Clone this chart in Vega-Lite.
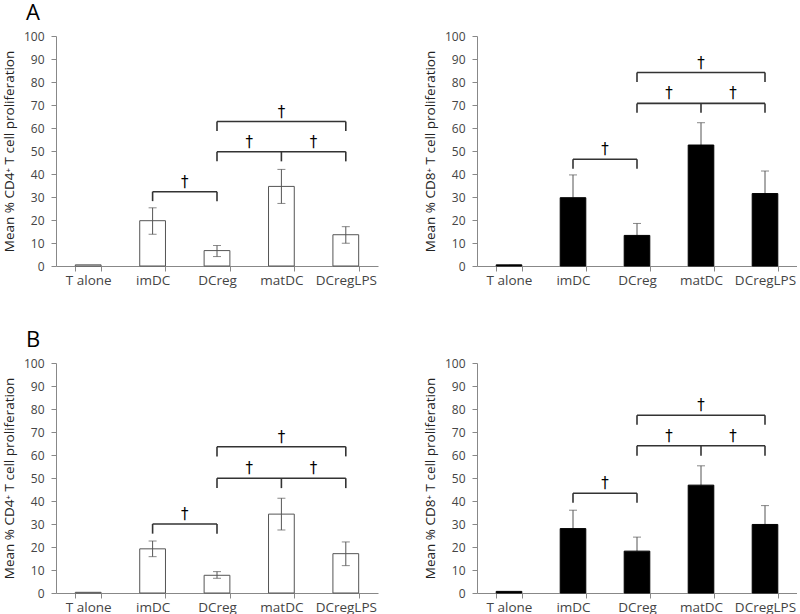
{
  "$schema": "https://vega.github.io/schema/vega-lite/v6.json",
  "padding": {"left": 2, "top": 2, "right": 0, "bottom": 0},
  "background": "white",
  "config": {
    "view": {"stroke": null},
    "font": "Open Sans",
    "axis": {"domainColor": "#888", "tickColor": "#888", "labelColor": "#444", "labelFont": "Open Sans", "titleFont": "Open Sans", "titleFontWeight": "normal", "titleColor": "#222", "grid": false, "tickSize": 5},
    "axisY": {"labelPadding": 7, "titlePadding": 7, "labelFontSize": 12, "titleFontSize": 13.5, "tickCount": 10},
    "axisX": {"labelPadding": 2, "labelFontSize": 13.5}
  },
  "datasets": {
    "bars": [
      {"panel": "A4", "cat": "T alone", "mean": 0.5},
      {"panel": "A4", "cat": "imDC", "mean": 19.7, "lo": 13.8, "hi": 25.3},
      {"panel": "A4", "cat": "DCreg", "mean": 6.7, "lo": 4.1, "hi": 8.9},
      {"panel": "A4", "cat": "matDC", "mean": 34.6, "lo": 27.2, "hi": 42.0},
      {"panel": "A4", "cat": "DCregLPS", "mean": 13.6, "lo": 9.9, "hi": 17.1},
      {"panel": "A8", "cat": "T alone", "mean": 0.5},
      {"panel": "A8", "cat": "imDC", "mean": 29.7, "hi": 39.6},
      {"panel": "A8", "cat": "DCreg", "mean": 13.3, "hi": 18.5},
      {"panel": "A8", "cat": "matDC", "mean": 52.6, "hi": 62.3},
      {"panel": "A8", "cat": "DCregLPS", "mean": 31.5, "hi": 41.3},
      {"panel": "B4", "cat": "T alone", "mean": 0.3},
      {"panel": "B4", "cat": "imDC", "mean": 19.2, "lo": 15.8, "hi": 22.6},
      {"panel": "B4", "cat": "DCreg", "mean": 7.7, "lo": 6.4, "hi": 9.3},
      {"panel": "B4", "cat": "matDC", "mean": 34.3, "lo": 27.4, "hi": 41.2},
      {"panel": "B4", "cat": "DCregLPS", "mean": 17.1, "lo": 11.9, "hi": 22.2},
      {"panel": "B8", "cat": "T alone", "mean": 0.7},
      {"panel": "B8", "cat": "imDC", "mean": 28.0, "hi": 36.0},
      {"panel": "B8", "cat": "DCreg", "mean": 18.2, "hi": 24.3},
      {"panel": "B8", "cat": "matDC", "mean": 46.9, "hi": 55.3},
      {"panel": "B8", "cat": "DCregLPS", "mean": 29.8, "hi": 38.0}
    ],
    "brk": [
      {"panel": "A4", "cat": "imDC", "to": "DCreg", "level": 32.3},
      {"panel": "A4", "cat": "DCreg", "to": "DCregLPS", "level": 49.7},
      {"panel": "A4", "cat": "DCreg", "to": "DCregLPS", "level": 62.8},
      {"panel": "A8", "cat": "imDC", "to": "DCreg", "level": 46.4},
      {"panel": "A8", "cat": "DCreg", "to": "DCregLPS", "level": 70.7},
      {"panel": "A8", "cat": "DCreg", "to": "DCregLPS", "level": 84.1},
      {"panel": "B4", "cat": "imDC", "to": "DCreg", "level": 30.0},
      {"panel": "B4", "cat": "DCreg", "to": "DCregLPS", "level": 49.9},
      {"panel": "B4", "cat": "DCreg", "to": "DCregLPS", "level": 63.6},
      {"panel": "B8", "cat": "imDC", "to": "DCreg", "level": 43.4},
      {"panel": "B8", "cat": "DCreg", "to": "DCregLPS", "level": 64.0},
      {"panel": "B8", "cat": "DCreg", "to": "DCregLPS", "level": 77.3}
    ],
    "drops": [
      {"panel": "A4", "cat": "imDC", "top": 32.3, "bottom": 28.2},
      {"panel": "A4", "cat": "DCreg", "top": 32.3, "bottom": 28.2},
      {"panel": "A4", "cat": "DCreg", "top": 49.7, "bottom": 45.5},
      {"panel": "A4", "cat": "matDC", "top": 49.7, "bottom": 45.5},
      {"panel": "A4", "cat": "DCregLPS", "top": 49.7, "bottom": 45.5},
      {"panel": "A4", "cat": "DCreg", "top": 62.8, "bottom": 58.7},
      {"panel": "A4", "cat": "DCregLPS", "top": 62.8, "bottom": 58.7},
      {"panel": "A8", "cat": "imDC", "top": 46.4, "bottom": 42.3},
      {"panel": "A8", "cat": "DCreg", "top": 46.4, "bottom": 42.3},
      {"panel": "A8", "cat": "DCreg", "top": 70.7, "bottom": 66.6},
      {"panel": "A8", "cat": "matDC", "top": 70.7, "bottom": 66.6},
      {"panel": "A8", "cat": "DCregLPS", "top": 70.7, "bottom": 66.6},
      {"panel": "A8", "cat": "DCreg", "top": 84.1, "bottom": 80.0},
      {"panel": "A8", "cat": "DCregLPS", "top": 84.1, "bottom": 80.0},
      {"panel": "B4", "cat": "imDC", "top": 30.0, "bottom": 25.8},
      {"panel": "B4", "cat": "DCreg", "top": 30.0, "bottom": 25.8},
      {"panel": "B4", "cat": "DCreg", "top": 49.9, "bottom": 45.6},
      {"panel": "B4", "cat": "matDC", "top": 49.9, "bottom": 45.6},
      {"panel": "B4", "cat": "DCregLPS", "top": 49.9, "bottom": 45.6},
      {"panel": "B4", "cat": "DCreg", "top": 63.6, "bottom": 59.4},
      {"panel": "B4", "cat": "DCregLPS", "top": 63.6, "bottom": 59.4},
      {"panel": "B8", "cat": "imDC", "top": 43.4, "bottom": 39.2},
      {"panel": "B8", "cat": "DCreg", "top": 43.4, "bottom": 39.2},
      {"panel": "B8", "cat": "DCreg", "top": 64.0, "bottom": 59.7},
      {"panel": "B8", "cat": "matDC", "top": 64.0, "bottom": 59.7},
      {"panel": "B8", "cat": "DCregLPS", "top": 64.0, "bottom": 59.7},
      {"panel": "B8", "cat": "DCreg", "top": 77.3, "bottom": 73.1},
      {"panel": "B8", "cat": "DCregLPS", "top": 77.3, "bottom": 73.1}
    ],
    "dag": [
      {"panel": "A4", "cat": "imDC", "level": 32.3, "between": true},
      {"panel": "A4", "cat": "DCreg", "level": 49.7, "between": true},
      {"panel": "A4", "cat": "matDC", "level": 49.7, "between": true},
      {"panel": "A4", "cat": "matDC", "level": 62.8, "between": false},
      {"panel": "A8", "cat": "imDC", "level": 46.4, "between": true},
      {"panel": "A8", "cat": "DCreg", "level": 70.7, "between": true},
      {"panel": "A8", "cat": "matDC", "level": 70.7, "between": true},
      {"panel": "A8", "cat": "matDC", "level": 84.1, "between": false},
      {"panel": "B4", "cat": "imDC", "level": 30.0, "between": true},
      {"panel": "B4", "cat": "DCreg", "level": 49.9, "between": true},
      {"panel": "B4", "cat": "matDC", "level": 49.9, "between": true},
      {"panel": "B4", "cat": "matDC", "level": 63.6, "between": false},
      {"panel": "B8", "cat": "imDC", "level": 43.4, "between": true},
      {"panel": "B8", "cat": "DCreg", "level": 64.0, "between": true},
      {"panel": "B8", "cat": "matDC", "level": 64.0, "between": true},
      {"panel": "B8", "cat": "matDC", "level": 77.3, "between": false}
    ]
  },
  "vconcat": [
    {
      "spacing": 45,
      "hconcat": [
        {
          "width": 322, "height": 230,
          "title": {"text": "A", "anchor": "start", "frame": "group", "dx": -30, "fontSize": 22, "fontWeight": "normal", "font": "Open Sans", "color": "#000", "offset": -12, "baseline": "alphabetic"},
          "encoding": {"x": {"field": "cat", "type": "nominal", "scale": {"domain": ["T alone", "imDC", "DCreg", "matDC", "DCregLPS"], "paddingInner": 0.6, "paddingOuter": 0.3}, "axis": {"title": null, "labelAngle": 0, "tickBand": "extent"}}},
          "layer": [
            {"data": {"name": "bars"}, "transform": [{"filter": "datum.panel === 'A4'"}], "mark": {"type": "bar", "fill": "#ffffff", "stroke": "#555", "strokeWidth": 1}, "encoding": {"y": {"field": "mean", "type": "quantitative", "scale": {"domain": [0, 100]}, "title": "Mean % CD4⁺ T cell proliferation"}}},
            {"data": {"name": "bars"}, "transform": [{"filter": "datum.panel === 'A4'"}], "mark": {"type": "rule", "color": "#555"}, "encoding": {"y": {"field": "lo", "type": "quantitative", "title": "Mean % CD4⁺ T cell proliferation"}, "y2": {"field": "hi"}}},
            {"data": {"name": "bars"}, "transform": [{"filter": "datum.panel === 'A4'"}], "mark": {"type": "tick", "color": "#555", "size": 8, "thickness": 1}, "encoding": {"y": {"field": "hi", "type": "quantitative", "title": "Mean % CD4⁺ T cell proliferation"}}},
            {"data": {"name": "bars"}, "transform": [{"filter": "datum.panel === 'A4'"}], "mark": {"type": "tick", "color": "#555", "size": 8, "thickness": 1}, "encoding": {"y": {"field": "lo", "type": "quantitative", "title": "Mean % CD4⁺ T cell proliferation"}}},
            {"data": {"name": "brk"}, "transform": [{"filter": "datum.panel === 'A4'"}], "mark": {"type": "rule", "color": "#333", "strokeWidth": 1.6}, "encoding": {"y": {"field": "level", "type": "quantitative", "title": "Mean % CD4⁺ T cell proliferation"}, "x2": {"field": "to"}}},
            {"data": {"name": "drops"}, "transform": [{"filter": "datum.panel === 'A4'"}], "mark": {"type": "rule", "color": "#333", "strokeWidth": 1.6}, "encoding": {"y": {"field": "top", "type": "quantitative", "title": "Mean % CD4⁺ T cell proliferation"}, "y2": {"field": "bottom"}}},
            {"data": {"name": "dag"}, "transform": [{"filter": "datum.panel === 'A4' && datum.between"}], "mark": {"type": "text", "text": "†", "fontSize": 15, "dy": -10, "color": "#000", "font": "DejaVu Sans"}, "encoding": {"x": {"field": "cat", "type": "nominal", "bandPosition": 1.75, "scale": {"domain": ["T alone", "imDC", "DCreg", "matDC", "DCregLPS"], "paddingInner": 0.6, "paddingOuter": 0.3}, "axis": {"title": null, "labelAngle": 0, "tickBand": "extent"}}, "y": {"field": "level", "type": "quantitative", "title": "Mean % CD4⁺ T cell proliferation"}}},
            {"data": {"name": "dag"}, "transform": [{"filter": "datum.panel === 'A4' && !datum.between"}], "mark": {"type": "text", "text": "†", "fontSize": 15, "dy": -10, "color": "#000", "font": "DejaVu Sans"}, "encoding": {"y": {"field": "level", "type": "quantitative", "title": "Mean % CD4⁺ T cell proliferation"}}}
          ]
        },
        {
          "width": 320, "height": 230,
          "encoding": {"x": {"field": "cat", "type": "nominal", "scale": {"domain": ["T alone", "imDC", "DCreg", "matDC", "DCregLPS"], "paddingInner": 0.6, "paddingOuter": 0.3}, "axis": {"title": null, "labelAngle": 0, "tickBand": "extent"}}},
          "layer": [
            {"data": {"name": "bars"}, "transform": [{"filter": "datum.panel === 'A8'"}], "mark": {"type": "rule", "color": "#555"}, "encoding": {"y": {"field": "mean", "type": "quantitative", "scale": {"domain": [0, 100]}, "title": "Mean % CD8⁺ T cell proliferation"}, "y2": {"field": "hi"}}},
            {"data": {"name": "bars"}, "transform": [{"filter": "datum.panel === 'A8'"}], "mark": {"type": "bar", "fill": "#000000", "stroke": "#000", "strokeWidth": 1}, "encoding": {"y": {"field": "mean", "type": "quantitative", "title": "Mean % CD8⁺ T cell proliferation"}}},
            {"data": {"name": "bars"}, "transform": [{"filter": "datum.panel === 'A8'"}], "mark": {"type": "tick", "color": "#555", "size": 8, "thickness": 1}, "encoding": {"y": {"field": "hi", "type": "quantitative", "title": "Mean % CD8⁺ T cell proliferation"}}},
            {"data": {"name": "brk"}, "transform": [{"filter": "datum.panel === 'A8'"}], "mark": {"type": "rule", "color": "#333", "strokeWidth": 1.6}, "encoding": {"y": {"field": "level", "type": "quantitative", "title": "Mean % CD8⁺ T cell proliferation"}, "x2": {"field": "to"}}},
            {"data": {"name": "drops"}, "transform": [{"filter": "datum.panel === 'A8'"}], "mark": {"type": "rule", "color": "#333", "strokeWidth": 1.6}, "encoding": {"y": {"field": "top", "type": "quantitative", "title": "Mean % CD8⁺ T cell proliferation"}, "y2": {"field": "bottom"}}},
            {"data": {"name": "dag"}, "transform": [{"filter": "datum.panel === 'A8' && datum.between"}], "mark": {"type": "text", "text": "†", "fontSize": 15, "dy": -10, "color": "#000", "font": "DejaVu Sans"}, "encoding": {"x": {"field": "cat", "type": "nominal", "bandPosition": 1.75, "scale": {"domain": ["T alone", "imDC", "DCreg", "matDC", "DCregLPS"], "paddingInner": 0.6, "paddingOuter": 0.3}, "axis": {"title": null, "labelAngle": 0, "tickBand": "extent"}}, "y": {"field": "level", "type": "quantitative", "title": "Mean % CD8⁺ T cell proliferation"}}},
            {"data": {"name": "dag"}, "transform": [{"filter": "datum.panel === 'A8' && !datum.between"}], "mark": {"type": "text", "text": "†", "fontSize": 15, "dy": -10, "color": "#000", "font": "DejaVu Sans"}, "encoding": {"y": {"field": "level", "type": "quantitative", "title": "Mean % CD8⁺ T cell proliferation"}}}
          ]
        }
      ]
    },
    {
      "spacing": 45,
      "hconcat": [
        {
          "width": 322, "height": 230,
          "title": {"text": "B", "anchor": "start", "frame": "group", "dx": -30, "fontSize": 22, "fontWeight": "normal", "font": "Open Sans", "color": "#000", "offset": -12, "baseline": "alphabetic"},
          "encoding": {"x": {"field": "cat", "type": "nominal", "scale": {"domain": ["T alone", "imDC", "DCreg", "matDC", "DCregLPS"], "paddingInner": 0.6, "paddingOuter": 0.3}, "axis": {"title": null, "labelAngle": 0, "tickBand": "extent"}}},
          "layer": [
            {"data": {"name": "bars"}, "transform": [{"filter": "datum.panel === 'B4'"}], "mark": {"type": "bar", "fill": "#ffffff", "stroke": "#555", "strokeWidth": 1}, "encoding": {"y": {"field": "mean", "type": "quantitative", "scale": {"domain": [0, 100]}, "title": "Mean % CD4⁺ T cell proliferation"}}},
            {"data": {"name": "bars"}, "transform": [{"filter": "datum.panel === 'B4'"}], "mark": {"type": "rule", "color": "#555"}, "encoding": {"y": {"field": "lo", "type": "quantitative", "title": "Mean % CD4⁺ T cell proliferation"}, "y2": {"field": "hi"}}},
            {"data": {"name": "bars"}, "transform": [{"filter": "datum.panel === 'B4'"}], "mark": {"type": "tick", "color": "#555", "size": 8, "thickness": 1}, "encoding": {"y": {"field": "hi", "type": "quantitative", "title": "Mean % CD4⁺ T cell proliferation"}}},
            {"data": {"name": "bars"}, "transform": [{"filter": "datum.panel === 'B4'"}], "mark": {"type": "tick", "color": "#555", "size": 8, "thickness": 1}, "encoding": {"y": {"field": "lo", "type": "quantitative", "title": "Mean % CD4⁺ T cell proliferation"}}},
            {"data": {"name": "brk"}, "transform": [{"filter": "datum.panel === 'B4'"}], "mark": {"type": "rule", "color": "#333", "strokeWidth": 1.6}, "encoding": {"y": {"field": "level", "type": "quantitative", "title": "Mean % CD4⁺ T cell proliferation"}, "x2": {"field": "to"}}},
            {"data": {"name": "drops"}, "transform": [{"filter": "datum.panel === 'B4'"}], "mark": {"type": "rule", "color": "#333", "strokeWidth": 1.6}, "encoding": {"y": {"field": "top", "type": "quantitative", "title": "Mean % CD4⁺ T cell proliferation"}, "y2": {"field": "bottom"}}},
            {"data": {"name": "dag"}, "transform": [{"filter": "datum.panel === 'B4' && datum.between"}], "mark": {"type": "text", "text": "†", "fontSize": 15, "dy": -10, "color": "#000", "font": "DejaVu Sans"}, "encoding": {"x": {"field": "cat", "type": "nominal", "bandPosition": 1.75, "scale": {"domain": ["T alone", "imDC", "DCreg", "matDC", "DCregLPS"], "paddingInner": 0.6, "paddingOuter": 0.3}, "axis": {"title": null, "labelAngle": 0, "tickBand": "extent"}}, "y": {"field": "level", "type": "quantitative", "title": "Mean % CD4⁺ T cell proliferation"}}},
            {"data": {"name": "dag"}, "transform": [{"filter": "datum.panel === 'B4' && !datum.between"}], "mark": {"type": "text", "text": "†", "fontSize": 15, "dy": -10, "color": "#000", "font": "DejaVu Sans"}, "encoding": {"y": {"field": "level", "type": "quantitative", "title": "Mean % CD4⁺ T cell proliferation"}}}
          ]
        },
        {
          "width": 320, "height": 230,
          "encoding": {"x": {"field": "cat", "type": "nominal", "scale": {"domain": ["T alone", "imDC", "DCreg", "matDC", "DCregLPS"], "paddingInner": 0.6, "paddingOuter": 0.3}, "axis": {"title": null, "labelAngle": 0, "tickBand": "extent"}}},
          "layer": [
            {"data": {"name": "bars"}, "transform": [{"filter": "datum.panel === 'B8'"}], "mark": {"type": "rule", "color": "#555"}, "encoding": {"y": {"field": "mean", "type": "quantitative", "scale": {"domain": [0, 100]}, "title": "Mean % CD8⁺ T cell proliferation"}, "y2": {"field": "hi"}}},
            {"data": {"name": "bars"}, "transform": [{"filter": "datum.panel === 'B8'"}], "mark": {"type": "bar", "fill": "#000000", "stroke": "#000", "strokeWidth": 1}, "encoding": {"y": {"field": "mean", "type": "quantitative", "title": "Mean % CD8⁺ T cell proliferation"}}},
            {"data": {"name": "bars"}, "transform": [{"filter": "datum.panel === 'B8'"}], "mark": {"type": "tick", "color": "#555", "size": 8, "thickness": 1}, "encoding": {"y": {"field": "hi", "type": "quantitative", "title": "Mean % CD8⁺ T cell proliferation"}}},
            {"data": {"name": "brk"}, "transform": [{"filter": "datum.panel === 'B8'"}], "mark": {"type": "rule", "color": "#333", "strokeWidth": 1.6}, "encoding": {"y": {"field": "level", "type": "quantitative", "title": "Mean % CD8⁺ T cell proliferation"}, "x2": {"field": "to"}}},
            {"data": {"name": "drops"}, "transform": [{"filter": "datum.panel === 'B8'"}], "mark": {"type": "rule", "color": "#333", "strokeWidth": 1.6}, "encoding": {"y": {"field": "top", "type": "quantitative", "title": "Mean % CD8⁺ T cell proliferation"}, "y2": {"field": "bottom"}}},
            {"data": {"name": "dag"}, "transform": [{"filter": "datum.panel === 'B8' && datum.between"}], "mark": {"type": "text", "text": "†", "fontSize": 15, "dy": -10, "color": "#000", "font": "DejaVu Sans"}, "encoding": {"x": {"field": "cat", "type": "nominal", "bandPosition": 1.75, "scale": {"domain": ["T alone", "imDC", "DCreg", "matDC", "DCregLPS"], "paddingInner": 0.6, "paddingOuter": 0.3}, "axis": {"title": null, "labelAngle": 0, "tickBand": "extent"}}, "y": {"field": "level", "type": "quantitative", "title": "Mean % CD8⁺ T cell proliferation"}}},
            {"data": {"name": "dag"}, "transform": [{"filter": "datum.panel === 'B8' && !datum.between"}], "mark": {"type": "text", "text": "†", "fontSize": 15, "dy": -10, "color": "#000", "font": "DejaVu Sans"}, "encoding": {"y": {"field": "level", "type": "quantitative", "title": "Mean % CD8⁺ T cell proliferation"}}}
          ]
        }
      ]
    }
  ],
  "spacing": 42
}
